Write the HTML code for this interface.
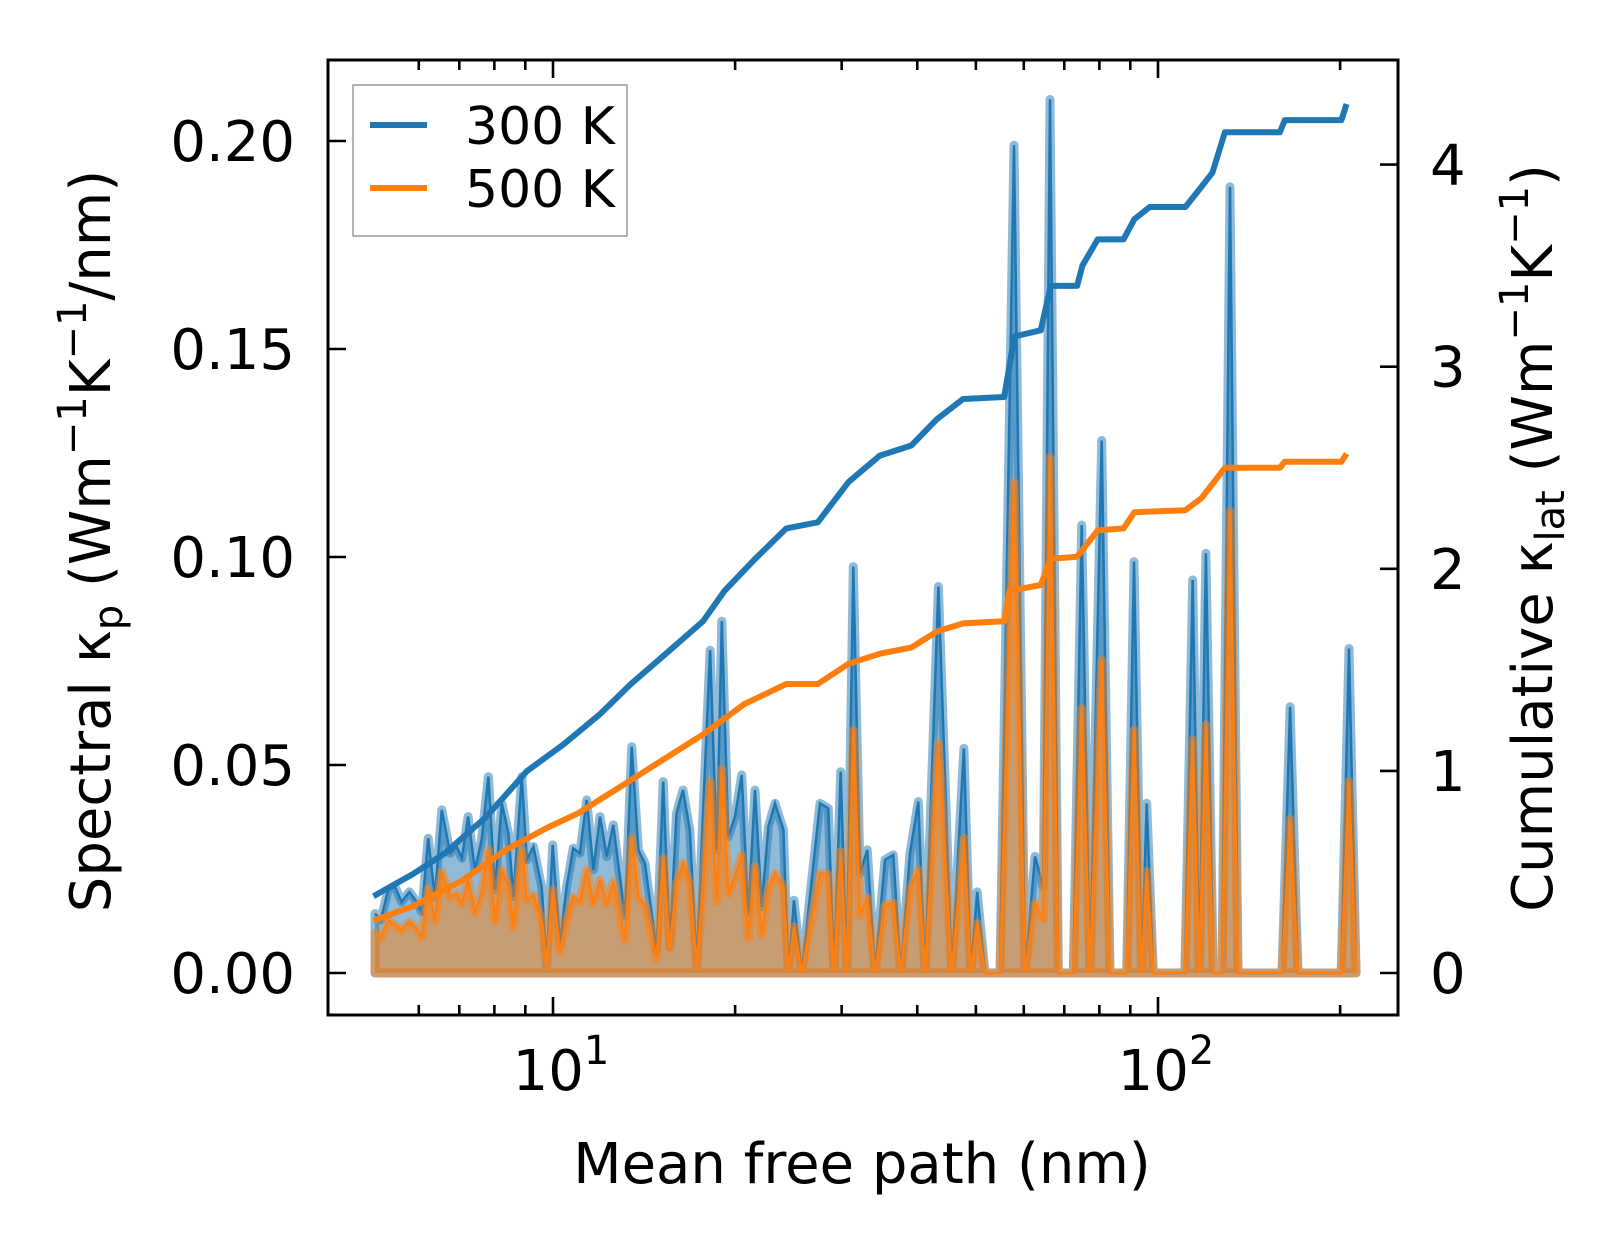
<!DOCTYPE html>
<html><head><meta charset="utf-8">
<style>
html,body{margin:0;padding:0;background:#fff;}
svg{display:block;font-family:"DejaVu Sans","Liberation Sans",sans-serif;}
</style></head>
<body>
<svg id="chart" width="1623" height="1254" viewBox="0 0 1623 1254" xmlns="http://www.w3.org/2000/svg"></svg>
<script>
// ---- data ----
const specX = [5.08,5.19,5.34,5.48,5.62,5.79,5.95,6.07,6.22,6.38,6.55,6.76,6.93,7.07,7.24,7.43,7.62,7.82,8.02,8.23,8.44,8.60,8.88,9.05,9.28,9.58,9.76,9.99,10.27,10.53,10.80,11.08,11.37,11.66,11.96,12.27,12.58,13.15,13.49,13.84,14.19,14.84,15.21,15.60,16.00,16.40,16.83,17.28,17.72,18.18,18.65,19.01,19.49,19.99,20.51,21.03,21.57,22.13,22.70,23.28,24.03,24.49,25.02,25.77,27.63,28.51,29.14,29.89,30.59,31.36,32.17,33.08,34.06,35.38,36.51,37.56,38.91,40.16,41.20,43.35,45.60,47.77,49.02,50.26,51.76,54.81,57.81,60.28,62.61,64.62,66.30,68.43,72.44,74.80,77.20,80.70,83.30,88.77,91.26,93.99,95.79,98.22,110.8,114.1,117.0,120.0,123.4,127.6,131.5,135.6,160.3,165.3,170.4,200.8,206.9,212.5];
const spec300 = [0.0143,0.0127,0.0200,0.0207,0.0171,0.0195,0.0171,0.0147,0.0324,0.0183,0.0392,0.0288,0.0304,0.0276,0.0376,0.0248,0.0320,0.0472,0.0200,0.0408,0.0336,0.0183,0.0472,0.0272,0.0304,0.0207,0.0019,0.0308,0.0071,0.0207,0.0300,0.0288,0.0416,0.0248,0.0376,0.0280,0.0356,0.0135,0.0544,0.0296,0.0264,0.0055,0.0460,0.0063,0.0384,0.0440,0.0344,0.0019,0.0400,0.0776,0.0296,0.0846,0.0328,0.0376,0.0476,0.0143,0.0440,0.0159,0.0352,0.0408,0.0344,0,0.0175,0,0.0408,0.0396,0,0.0484,0,0.0977,0.0240,0.0296,0,0.0272,0.0284,0,0.0288,0.0412,0,0.0929,0,0.0540,0,0.0195,0,0,0.199,0,0.0280,0.0207,0.210,0,0,0.1077,0,0.128,0,0,0.0989,0,0.0408,0,0,0.0945,0,0.1009,0,0,0.189,0,0,0.064,0,0,0.078,0];
const spec500 = [0.0096,0.0084,0.0127,0.0115,0.0103,0.0123,0.0107,0.0087,0.0203,0.0127,0.0243,0.0183,0.0191,0.0167,0.0223,0.0147,0.0191,0.0296,0.0123,0.0248,0.0207,0.0111,0.0296,0.0175,0.0187,0.0127,0.0019,0.0200,0.0051,0.0127,0.0183,0.0171,0.0248,0.0167,0.0223,0.0167,0.0219,0.0079,0.0324,0.0183,0.0163,0.0035,0.0276,0.0059,0.0215,0.0264,0.0215,0.0019,0.0211,0.0460,0.0171,0.049,0.0191,0.0231,0.0284,0.0084,0.0256,0.0091,0.0203,0.0239,0.0207,0,0.0111,0,0.0240,0.0236,0,0.0292,0,0.0584,0.0139,0.0180,0,0.0163,0.0168,0,0.0200,0.0248,0,0.0552,0,0.0324,0,0.0119,0,0,0.118,0,0.0168,0.0131,0.124,0,0,0.0636,0,0.0752,0,0,0.0584,0,0.0244,0,0,0.0560,0,0.0596,0,0,0.111,0,0,0.037,0,0,0.046,0];
const cum300X = [5.05,5.87,6.61,7.74,9.06,10.4,11.95,13.45,15.1,17.7,19.2,21.6,24.3,27.4,30.8,34.7,39.1,43.1,47.6,55.7,57.9,64.0,66.5,73.5,75.0,79.5,87.7,91.4,96.9,111,118,123,129,159,162,201,205];
const cum300 = [0.38,0.49,0.59,0.77,1.00,1.13,1.28,1.43,1.56,1.74,1.89,2.05,2.20,2.23,2.43,2.56,2.61,2.74,2.84,2.85,3.15,3.18,3.40,3.40,3.50,3.63,3.63,3.73,3.79,3.79,3.89,3.96,4.16,4.16,4.22,4.22,4.30];
const cum500X = [5.05,5.87,7.1,8.37,9.8,11.0,12.9,15.1,17.7,20.7,24.3,27.4,30.8,34.7,39.1,43.1,47.6,55.7,56.8,64,66.5,73.5,79.5,87.7,91.4,111,118,129,159,162,201,205];
const cum500 = [0.26,0.33,0.46,0.61,0.72,0.79,0.92,1.05,1.18,1.33,1.43,1.43,1.53,1.58,1.61,1.69,1.73,1.74,1.89,1.92,2.05,2.06,2.19,2.20,2.28,2.29,2.35,2.50,2.50,2.53,2.53,2.57];
const leftTicks = [0,0.05,0.10,0.15,0.20];
const leftTickLabels = ["0.00","0.05","0.10","0.15","0.20"];
const rightTicks = [0,1,2,3,4];
const xMajor = [10,100];
const xMinor = [6,7,8,9,20,30,40,50,60,70,80,90,200];

// ---- axes ----
const L=328, R=1398, T=60, B=1015;
const X0=553, DEC=605;
const sx = v => X0 + (Math.log10(v)-1)*DEC;
const syL = v => 973 - v*4160;
const syR = v => 973 - v*202.1;
const NS="http://www.w3.org/2000/svg";
const svg=document.getElementById('chart');
function mk(tag, attrs, parent){const e=document.createElementNS(NS,tag);for(const k in attrs)e.setAttribute(k,attrs[k]);(parent||svg).appendChild(e);return e;}

const clip=mk('clipPath',{id:'plotclip'});mk('rect',{x:L,y:T,width:R-L,height:B-T},clip);
const plot=mk('g',{'clip-path':'url(#plotclip)'});



function areaPath(xs,ys){let d='M'+sx(xs[0])+','+syL(0);xs.forEach((x,i)=>{d+=' L'+sx(x).toFixed(1)+','+syL(ys[i]).toFixed(1);});d+=' L'+sx(xs[xs.length-1])+','+syL(0)+' Z';return d;}
function linePath(xs,ys,fy){return xs.map((x,i)=>(i?'L':'M')+sx(x).toFixed(1)+','+fy(ys[i]).toFixed(1)).join(' ');}

const a300=mk('path',{d:areaPath(specX,spec300),fill:'rgba(31,119,180,0.5)',stroke:'rgba(31,119,180,0.5)','stroke-width':9,'stroke-linejoin':'round'},plot);


const l300=mk('path',{d:linePath(specX,spec300,syL),fill:'none',stroke:'#1f77b4','stroke-width':2.5},plot);


const a500=mk('path',{d:areaPath(specX,spec500),fill:'rgba(255,127,14,0.5)',stroke:'rgba(255,127,14,0.5)','stroke-width':9,'stroke-linejoin':'round'},plot);


const l500=mk('path',{d:linePath(specX,spec500,syL),fill:'none',stroke:'#ff7f0e','stroke-width':2.5},plot);


const c300=mk('path',{d:linePath(cum300X,cum300,syR),fill:'none',stroke:'#1f77b4','stroke-width':6,'stroke-linejoin':'round'},plot);


const c500=mk('path',{d:linePath(cum500X,cum500,syR),fill:'none',stroke:'#ff7f0e','stroke-width':6,'stroke-linejoin':'round'},plot);



// frame
const frame=mk('rect',{x:L,y:T,width:R-L,height:B-T,fill:'none',stroke:'#000','stroke-width':3});



// ticks
const tg=mk('g',{stroke:'#000','stroke-width':2.6});


xMajor.forEach(v=>{const x=sx(v);mk('line',{x1:x,x2:x,y1:B,y2:B-18},tg);mk('line',{x1:x,x2:x,y1:T,y2:T+18},tg);});
xMinor.forEach(v=>{const x=sx(v);mk('line',{x1:x,x2:x,y1:B,y2:B-10},tg);mk('line',{x1:x,x2:x,y1:T,y2:T+10},tg);});
leftTicks.forEach(v=>{const y=syL(v);mk('line',{x1:L,x2:L+18,y1:y,y2:y},tg);});
rightTicks.forEach(v=>{const y=syR(v);mk('line',{x1:R,x2:R-18,y1:y,y2:y},tg);});

// tick labels
leftTicks.forEach((v,i)=>{const t=mk('text',{x:295,y:syL(v)+20,'text-anchor':'end','font-size':56,fill:'#000'});t.textContent=leftTickLabels[i];

});
rightTicks.forEach(v=>{const t=mk('text',{x:1430,y:syR(v)+20,'font-size':56,fill:'#000'});t.textContent=String(v);

});
xMajor.forEach((v,i)=>{const t=mk('text',{x:sx(v)+8,y:1090,'text-anchor':'middle','font-size':56,fill:'#000'});
t.innerHTML='10<tspan font-size="40" dy="-26">'+(i+1)+'</tspan>';

});
</script>
<svg style="position:absolute;left:0;top:0" width="1623" height="1254">
<text x="862" y="1183" text-anchor="middle" font-size="56" font-family="DejaVu Sans, sans-serif">Mean free path (nm)</text>
<text transform="translate(110,541) rotate(-90)" text-anchor="middle" font-size="56" font-family="DejaVu Sans, sans-serif">Spectral κ<tspan font-size="40" dy="12">p</tspan><tspan dy="-12"> (Wm</tspan><tspan font-size="40" dy="-24">−1</tspan><tspan dy="24">K</tspan><tspan font-size="40" dy="-24">−1</tspan><tspan dy="24">/nm)</tspan></text>
<text transform="translate(1552,538) rotate(-90)" text-anchor="middle" font-size="56" font-family="DejaVu Sans, sans-serif">Cumulative κ<tspan font-size="40" dy="12">lat</tspan><tspan dy="-12"> (Wm</tspan><tspan font-size="40" dy="-24">−1</tspan><tspan dy="24">K</tspan><tspan font-size="40" dy="-24">−1</tspan><tspan dy="24">)</tspan></text>
<g>
<rect x="353" y="85" width="274" height="151" fill="#fff" fill-opacity="0.8" stroke="#999" stroke-width="1.5"/>
<line x1="370" x2="427" y1="125" y2="125" stroke="#1f77b4" stroke-width="6"/>
<text x="465" y="144" font-size="52" font-family="DejaVu Sans, sans-serif">300 K</text>
<line x1="370" x2="427" y1="188" y2="188" stroke="#ff7f0e" stroke-width="6"/>
<text x="465" y="207" font-size="52" font-family="DejaVu Sans, sans-serif">500 K</text>
</g>
</svg>
</body></html>
